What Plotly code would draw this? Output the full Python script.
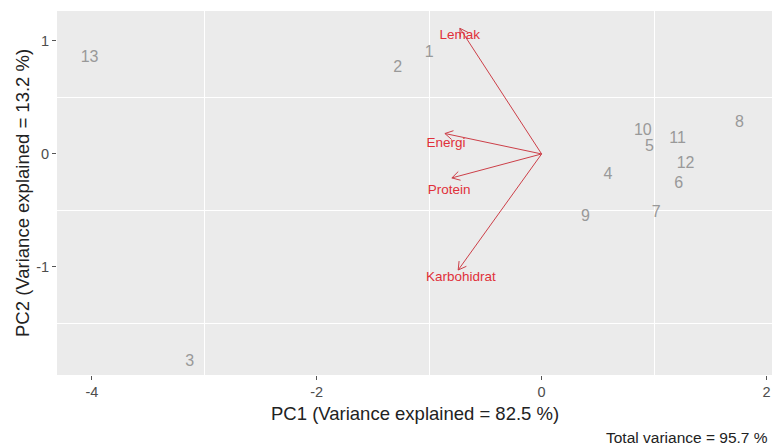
import plotly.graph_objects as go
import numpy as np

# Observations (PCA scores)
obs_labels = [str(i) for i in range(1, 14)]
pc1 = [-1.00, -1.28, -3.13, 0.59, 0.96, 1.22, 1.02, 1.76, 0.39, 0.90, 1.21, 1.28, -4.02]
pc2 = [0.89, 0.76, -1.84, -0.19, 0.06, -0.27, -0.52, 0.27, -0.56, 0.20, 0.13, -0.09, 0.85]

# Variable loadings (arrows)
var_names = ["Lemak", "Energi", "Protein", "Karbohidrat"]
var_x = [-0.727, -0.860, -0.798, -0.742]
var_y = [1.112, 0.181, -0.212, -1.027]
var_label_x = [-0.727, -0.851, -0.822, -0.718]
var_label_y = [1.047, 0.095, -0.325, -1.095]

x_ticks = [-4, -2, 0, 2]
x_ticktext = ["-4", "-2", "0", "2"]
y_ticks = [-1, 0, 1]
y_ticktext = ["-1", "0", "1"]

x_title = "PC1 (Variance explained = 82.5 %)"
y_title = "PC2 (Variance explained = 13.2 %)"
caption = "Total variance = 95.7 %"

W, H = 773, 447
ML, MR, MT, MB = 57, 1, 11, 72
xr = [-4.31, 2.049]
yr = [-1.956, 1.265]

FONT = "Liberation Sans, Arial, sans-serif"
GREY = "#999999"
LINE_RED = "#CC3F48"
TEXT_RED = "#E0303A"

PW = W - ML - MR
PH = H - MT - MB

# pixel scales for arrowheads
sx = PW / (xr[1] - xr[0])
sy = PH / (yr[1] - yr[0])

ax_line, ay_line = [], []
head_len = 9.0
ang = np.deg2rad(30)
for vx, vy in zip(var_x, var_y):
    ax_line += [0, vx, None]
    ay_line += [0, vy, None]
    ux, uy = vx * sx, vy * sy
    n = np.hypot(ux, uy)
    ux, uy = ux / n, uy / n
    for s in (1, -1):
        c, si = np.cos(s * ang), np.sin(s * ang)
        rx = ux * c - uy * si
        ry = ux * si + uy * c
        ax_line += [vx, vx - head_len * rx / sx, None]
        ay_line += [vy, vy - head_len * ry / sy, None]

fig = go.Figure()
fig.add_trace(go.Scatter(
    x=ax_line, y=ay_line, mode="lines",
    line=dict(color=LINE_RED, width=1), hoverinfo="skip", showlegend=False))
fig.add_trace(go.Scatter(
    x=pc1, y=pc2, mode="text", text=obs_labels,
    textfont=dict(family=FONT, size=16, color=GREY), showlegend=False))
fig.add_trace(go.Scatter(
    x=var_label_x, y=var_label_y, mode="text", text=var_names,
    textfont=dict(family=FONT, size=13.5, color=TEXT_RED), showlegend=False))

x_minor = [(a + b) / 2 for a, b in zip(x_ticks[:-1], x_ticks[1:])]
y_minor = [y_ticks[0] - 0.5] + [(a + b) / 2 for a, b in zip(y_ticks[:-1], y_ticks[1:])]

def py(pix):
    """pixel row -> paper y"""
    return ((H - MB) - pix) / PH

fig.update_layout(
    width=W, height=H,
    margin=dict(l=ML, r=MR, t=MT, b=MB, autoexpand=False),
    paper_bgcolor="white", plot_bgcolor="#EBEBEB",
    font=dict(family=FONT),
    xaxis=dict(range=xr, tickvals=x_ticks, ticktext=x_ticktext, showgrid=False,
               zeroline=False, automargin=False,
               ticks="outside", ticklen=4, tickcolor="#555555",
               tickfont=dict(size=14.5, color="#4D4D4D", family=FONT),
               minor=dict(tickvals=x_minor, showgrid=True, gridcolor="white",
                          gridwidth=1.3, ticks="")),
    yaxis=dict(range=yr, tickvals=y_ticks, ticktext=y_ticktext, showgrid=False,
               zeroline=False, automargin=False,
               ticks="outside", ticklen=4, tickcolor="#555555",
               tickfont=dict(size=14.5, color="#4D4D4D", family=FONT),
               minor=dict(tickvals=y_minor, showgrid=True, gridcolor="white",
                          gridwidth=1.3, ticks="")),
    annotations=[
        dict(text=x_title, xref="paper", yref="paper", x=0.5, y=py(413),
             xanchor="center", yanchor="middle", showarrow=False,
             font=dict(family=FONT, size=18.5, color="#222222")),
        dict(text=y_title, xref="paper", yref="paper",
             x=(22 - ML) / PW, y=0.5, textangle=-90,
             xanchor="center", yanchor="middle", showarrow=False,
             font=dict(family=FONT, size=18.5, color="#222222")),
        dict(text=caption, xref="paper", yref="paper", x=(770 - ML) / PW,
             y=py(437), xanchor="right", yanchor="middle", showarrow=False,
             font=dict(family=FONT, size=15.5, color="#222222")),
    ],
)

fig.write_html(
    "out.html",
    config={"displayModeBar": False},
    post_script="document.body.style.margin='0';document.body.style.overflow='hidden';",
)
